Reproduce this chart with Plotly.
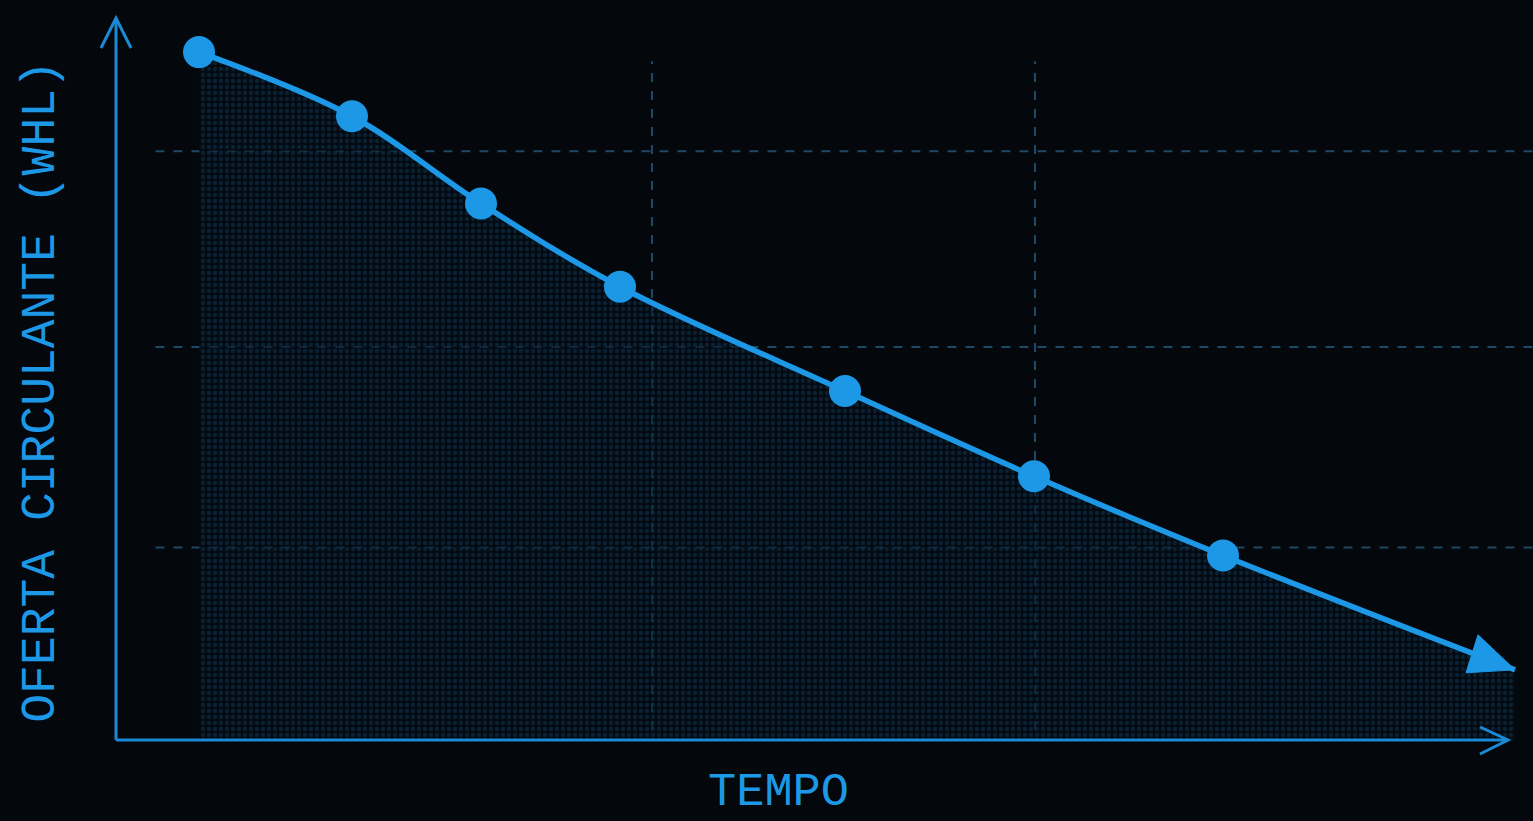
import plotly.graph_objects as go

# Data (time units, supply units)
tempo = [0.83, 2.36, 3.65, 5.04, 7.29, 9.18, 11.07]
oferta = [68.6, 62.2, 53.5, 45.2, 34.8, 26.3, 18.4]
tempo_fim = 13.99
oferta_fim = 7.0
grid_x = [5.36, 9.19]
grid_y = [19.2, 39.2, 58.7]

X_AXIS_END = 13.92
X_MAX = 14.07
Y_MAX = 72.0

BLUE = "#1c98e6"
AXIS = "#1a8ad6"
BG = "#04070b"
GRID = "#1d4866"
FONT = "Liberation Mono, DejaVu Sans Mono, monospace"

fig = go.Figure()

# filled area under the curve with dotted texture
fig.add_trace(go.Scatter(
    x=tempo + [tempo_fim], y=oferta + [oferta_fim],
    mode="lines", line=dict(width=0, shape="spline", smoothing=1.0),
    fill="tozeroy", fillcolor="rgba(6,20,34,0.5)",
    fillpattern=dict(shape=".", fgcolor="rgba(22,85,130,0.6)", bgcolor="rgba(4,12,22,0.6)",
                     size=6, solidity=0.4),
    hoverinfo="skip", showlegend=False,
))

# main line
fig.add_trace(go.Scatter(
    x=tempo + [tempo_fim], y=oferta + [oferta_fim],
    mode="lines", line=dict(color=BLUE, width=5.5, shape="spline", smoothing=1.0),
    hoverinfo="skip", showlegend=False, cliponaxis=False,
))

# markers
fig.add_trace(go.Scatter(
    x=tempo, y=oferta, mode="markers",
    marker=dict(size=32, color=BLUE, line=dict(width=0)),
    hoverinfo="skip", showlegend=False, cliponaxis=False,
))

x_end_paper = X_AXIS_END / X_MAX

shapes = []
# dashed grid
for gx in grid_x:
    shapes.append(dict(type="line", xref="x", yref="paper", x0=gx, x1=gx, y0=0.014, y1=0.94,
                       line=dict(color=GRID, width=2, dash="dash"), layer="below"))
for gy in grid_y:
    shapes.append(dict(type="line", xref="paper", yref="y", x0=0.028, x1=1.01, y0=gy, y1=gy,
                       line=dict(color=GRID, width=2, dash="dash"), layer="below"))

# axes lines
shapes.append(dict(type="line", xref="paper", yref="paper", x0=0, x1=x_end_paper, y0=0, y1=0,
                   line=dict(color=AXIS, width=3)))
shapes.append(dict(type="line", xref="paper", yref="paper", x0=0, x1=0, y0=0, y1=1,
                   line=dict(color=AXIS, width=3)))
# axis arrow chevrons (pixel-sized, anchored at axis ends)
shapes.append(dict(type="path", xref="paper", yref="paper", xsizemode="pixel", ysizemode="pixel",
                   xanchor=x_end_paper, yanchor=0, path="M -28 13 L 0 0 L -28 -14",
                   line=dict(color=AXIS, width=3)))
shapes.append(dict(type="path", xref="paper", yref="paper", xsizemode="pixel", ysizemode="pixel",
                   xanchor=0, yanchor=1, path="M -15 -30 L 0 0 L 15 -30",
                   line=dict(color=AXIS, width=3)))
# filled arrow head at the end of the curve (pixel-sized, anchored at the last data point)
shapes.append(dict(type="path", xref="x", yref="y", xsizemode="pixel", ysizemode="pixel",
                   xanchor=tempo_fim, yanchor=oferta_fim,
                   path="M 0 0 L -37 35 L -49 -3 Z",
                   fillcolor=BLUE, line=dict(color=BLUE, width=1)))

fig.update_layout(
    width=1533, height=821,
    margin=dict(l=116, r=10, t=18, b=81),
    paper_bgcolor=BG, plot_bgcolor=BG,
    xaxis=dict(range=[0, X_MAX], showgrid=False, zeroline=False, showticklabels=False,
               showline=False, ticks=""),
    yaxis=dict(range=[0, Y_MAX], showgrid=False, zeroline=False, showticklabels=False,
               showline=False, ticks=""),
    shapes=shapes,
    annotations=[
        dict(text="TEMPO", xref="paper", yref="paper", x=(778 - 116) / 1407, y=-0.1125,
             xanchor="center", yanchor="bottom", showarrow=False,
             font=dict(family=FONT, size=47, color=BLUE)),
        dict(text="OFERTA CIRCULANTE (WHL)", xref="paper", yref="paper", x=-0.053, y=0.483,
             xanchor="center", yanchor="middle", showarrow=False, textangle=-90,
             font=dict(family=FONT, size=48, color=BLUE)),
    ],
)

fig.write_html("out.html", config={"displayModeBar": False},
               post_script="document.body.style.margin='0';document.body.style.overflow='hidden';document.body.style.background='%s';" % BG)
